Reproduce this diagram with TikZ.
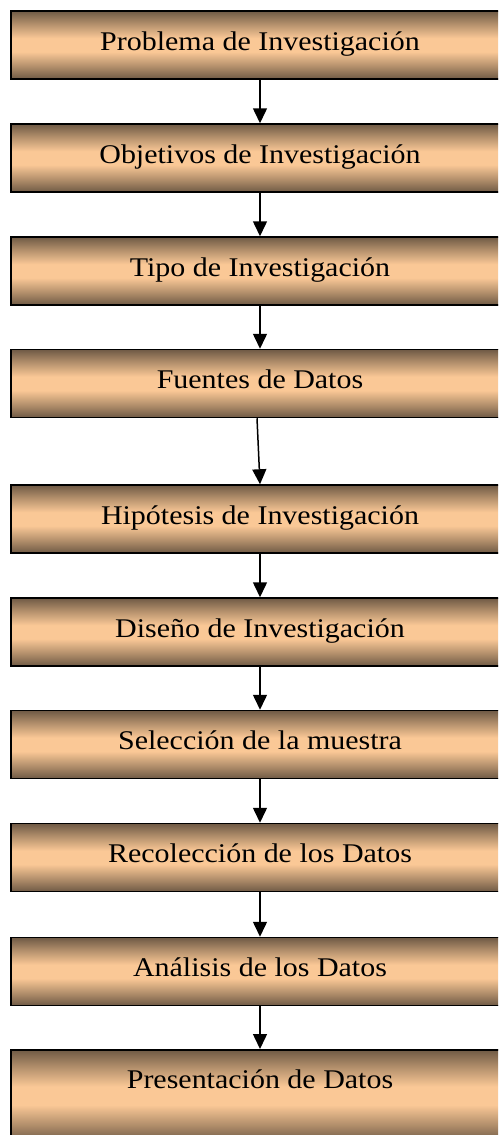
\documentclass[tikz,border=0pt]{standalone}
\usepackage{fontspec}
\newfontfamily\boxfont[FakeStretch=1.11]{Liberation Serif}
\usetikzlibrary{arrows.meta}
\definecolor{dk}{HTML}{6F5A45}
\definecolor{md}{HTML}{B08D6A}
\definecolor{lt}{HTML}{FAC896}
\pgfdeclareverticalshading{boxshade}{100bp}{color(0bp)=(dk); color(25bp)=(dk); color(34bp)=(md); color(45bp)=(lt); color(55bp)=(lt); color(66bp)=(md); color(75bp)=(dk); color(100bp)=(dk)}
\tikzset{
  stepbox/.style={draw=black, line width=1.5pt, shading=boxshade, minimum width=498pt, minimum height=68pt, inner sep=0pt, font=\boxfont\fontsize{27pt}{32pt}\selectfont, text height=16pt, text depth=6pt},
  boxtext/.style={inner sep=0pt, font=\boxfont\fontsize{27pt}{32pt}\selectfont, text height=16pt, text depth=6pt},
  conn/.style={line width=1.5pt, -{Triangle[width=14pt,length=15pt]}}
}
\begin{document}
\begin{tikzpicture}
\useasboundingbox (0pt,0pt) rectangle (498pt,-1135pt);
\clip (0pt,0pt) rectangle (498pt,-1135pt);
\node[stepbox] (b1) at (260pt,-45pt) {Problema de Investigación};
\node[stepbox] (b2) at (260pt,-158pt) {Objetivos de Investigación};
\node[stepbox] (b3) at (260pt,-271pt) {Tipo de Investigación};
\node[stepbox] (b4) at (260pt,-383.5pt) {Fuentes de Datos};
\node[stepbox] (b5) at (260pt,-519pt) {Hipótesis de Investigación};
\node[stepbox] (b6) at (260pt,-632pt) {Diseño de Investigación};
\node[stepbox] (b7) at (260pt,-744.5pt) {Selección de la muestra};
\node[stepbox] (b8) at (260pt,-857.5pt) {Recolección de los Datos};
\node[stepbox] (b9) at (260pt,-971.5pt) {Análisis de los Datos};
\node[stepbox, minimum height=92pt, anchor=north] (b10) at (260pt,-1049pt) {};
\node[boxtext] (t10) at (260pt,-1083pt) {Presentación de Datos};
\draw[conn] (b1.south) -- (b2.north);
\draw[conn] (b2.south) -- (b3.north);
\draw[conn] (b3.south) -- (b4.north);
\draw[conn] ([xshift=-3pt]b4.south) -- (b5.north);
\draw[conn] (b5.south) -- (b6.north);
\draw[conn] (b6.south) -- (b7.north);
\draw[conn] (b7.south) -- (b8.north);
\draw[conn] (b8.south) -- (b9.north);
\draw[conn] (b9.south) -- (b10.north);
\end{tikzpicture}
\end{document}
